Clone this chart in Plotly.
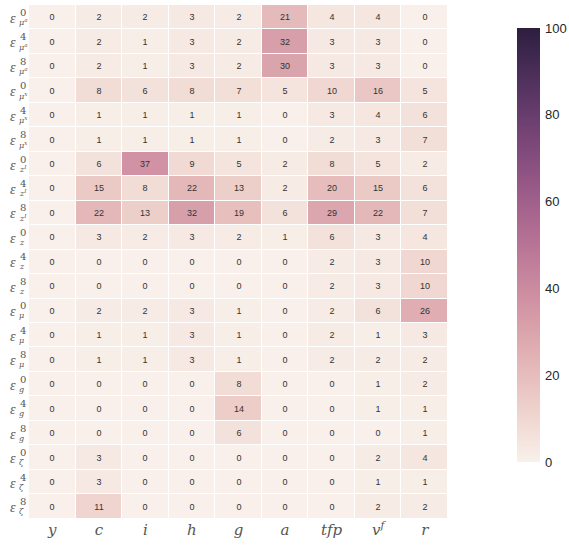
import numpy as np
import plotly.graph_objects as go

columns = ["y", "c", "i", "h", "g", "a", "tfp", "v^f", "r"]
col_labels = ["<i>y</i>", "<i>c</i>", "<i>i</i>", "<i>h</i>", "<i>g</i>", "<i>a</i>",
              "<i>tfp</i>", "<i>v</i><sup><i>f</i></sup>", "<i>r</i>"]

row_sup = ["0", "4", "8", "0", "4", "8", "0", "4", "8", "0", "4", "8",
           "0", "4", "8", "0", "4", "8", "0", "4", "8"]
row_sub = ["μ<sup>a</sup>"] * 3 + ["μ<sup>x</sup>"] * 3 + ["z<sup>I</sup>"] * 3 + \
          ["z"] * 3 + ["μ"] * 3 + ["g"] * 3 + ["ζ"] * 3

values = [
    [0, 2, 2, 3, 2, 21, 4, 4, 0],
    [0, 2, 1, 3, 2, 32, 3, 3, 0],
    [0, 2, 1, 3, 2, 30, 3, 3, 0],
    [0, 8, 6, 8, 7, 5, 10, 16, 5],
    [0, 1, 1, 1, 1, 0, 3, 4, 6],
    [0, 1, 1, 1, 1, 0, 2, 3, 7],
    [0, 6, 37, 9, 5, 2, 8, 5, 2],
    [0, 15, 8, 22, 13, 2, 20, 15, 6],
    [0, 22, 13, 32, 19, 6, 29, 22, 7],
    [0, 3, 2, 3, 2, 1, 6, 3, 4],
    [0, 0, 0, 0, 0, 0, 2, 3, 10],
    [0, 0, 0, 0, 0, 0, 2, 3, 10],
    [0, 2, 2, 3, 1, 0, 2, 6, 26],
    [0, 1, 1, 3, 1, 0, 2, 1, 3],
    [0, 1, 1, 3, 1, 0, 2, 2, 2],
    [0, 0, 0, 0, 8, 0, 0, 1, 2],
    [0, 0, 0, 0, 14, 0, 0, 1, 1],
    [0, 0, 0, 0, 6, 0, 0, 0, 1],
    [0, 3, 0, 0, 0, 0, 0, 2, 4],
    [0, 3, 0, 0, 0, 0, 0, 1, 1],
    [0, 11, 0, 0, 0, 0, 0, 2, 2],
]

cbar_ticks = [0, 20, 40, 60, 80, 100]


# seaborn-style cubehelix colormap
def cubehelix(x, start=0.0, rot=0.4, gamma=1.0, hue=0.8):
    xg = x ** gamma
    a = hue * xg * (1 - xg) / 2
    phi = 2 * np.pi * (start / 3 + rot * x)
    r = xg + a * (-0.14861 * np.cos(phi) + 1.78277 * np.sin(phi))
    g = xg + a * (-0.29227 * np.cos(phi) - 0.90649 * np.sin(phi))
    b = xg + a * (1.97294 * np.cos(phi))
    return [int(round(255 * min(max(v, 0), 1))) for v in (r, g, b)]


light, dark = 0.95, 0.15
stops = np.linspace(0, 1, 21)
colorscale = []
for s in stops:
    r, g, b = cubehelix(light + (dark - light) * s)
    colorscale.append([float(s), f"rgb({r},{g},{b})"])

L, R, T, B = 29, 121, 5, 39
W, H = 569, 558
pw = W - L - R
ph = H - T - B


def px_to_paper(px):
    return (px - L) / pw


def py_to_paper(py):
    return (H - B - py) / ph


n_rows = len(values)
fig = go.Figure(go.Heatmap(
    z=values,
    x=list(range(len(columns))),
    y=list(range(n_rows)),
    zmin=0, zmax=100,
    colorscale=colorscale,
    xgap=1, ygap=1,
    text=values,
    texttemplate="%{text}",
    textfont=dict(size=9, color="#333333", family="Liberation Sans, Arial"),
    hoverinfo="skip",
    colorbar=dict(
        x=px_to_paper(517), xanchor="left", xpad=0,
        y=py_to_paper(28), yanchor="top", ypad=0,
        len=434, lenmode="pixels",
        thickness=23,
        outlinewidth=0,
        tickvals=cbar_ticks,
        ticks="outside", ticklen=3, tickcolor="rgba(0,0,0,0)",
        tickfont=dict(size=13, color="#262626", family="Liberation Sans, Arial"),
    ),
))

annotations = []
for i in range(n_rows):
    annotations.append(dict(
        x=px_to_paper(18), y=i, xref="paper", yref="y",
        text="<i>ε</i>", showarrow=False, xanchor="right", yanchor="middle",
        font=dict(size=14, color="#555555", family="Liberation Serif"), yshift=-1))
    annotations.append(dict(
        x=px_to_paper(17.5), y=i, xref="paper", yref="y",
        text=row_sup[i], showarrow=False, xanchor="left", yanchor="middle",
        font=dict(size=10, color="#555555", family="DejaVu Serif"), yshift=5))
    annotations.append(dict(
        x=px_to_paper(17), y=i, xref="paper", yref="y",
        text="<i>" + row_sub[i] + "</i>", showarrow=False, xanchor="left", yanchor="middle",
        font=dict(size=8, color="#555555", family="DejaVu Serif"), yshift=-5))

fig.update_layout(
    width=W, height=H,
    margin=dict(l=L, r=R, t=T, b=B, autoexpand=False),
    paper_bgcolor="white", plot_bgcolor="white",
    xaxis=dict(tickvals=list(range(len(columns))), ticktext=col_labels,
               showgrid=False, zeroline=False, ticks="", showline=False,
               tickfont=dict(size=15, color="#555555", family="DejaVu Serif")),
    yaxis=dict(autorange="reversed", showticklabels=False, showgrid=False,
               zeroline=False, ticks="", showline=False),
    annotations=annotations,
)

fig.write_html("out.html")
